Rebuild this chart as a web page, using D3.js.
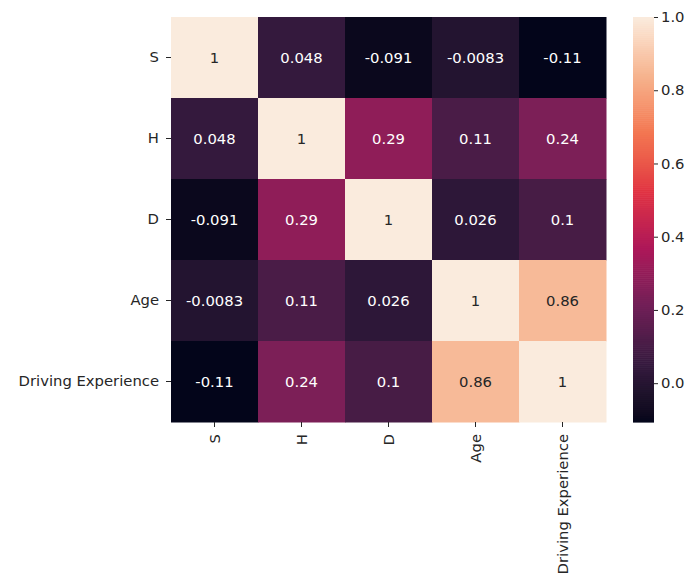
<!DOCTYPE html>
<html><head><meta charset="utf-8">
<script src="https://cdn.jsdelivr.net/npm/d3@7"></script>
<style>body{margin:0;background:#fff}svg{display:block}text{font-family:"DejaVu Sans",sans-serif;}</style>
</head><body><svg id="c" width="691" height="578"></svg>
<script>
const labels = ["S","H","D","Age","Driving Experience"];
const rowS   = [1, 0.048, -0.091, -0.0083, -0.106];
const rowH   = [0.048, 1, 0.29, 0.11, 0.24];
const rowD   = [-0.091, 0.29, 1, 0.026, 0.1];
const rowAge = [-0.0083, 0.11, 0.026, 1, 0.86];
const rowDE  = [-0.106, 0.24, 0.1, 0.86, 1];
const matrix = [rowS,rowH,rowD,rowAge,rowDE];
const cbarTicks = [0.0,0.2,0.4,0.6,0.8,1.0];
const rocketStops = ["#03051A","#35193e","#701f57","#ad1759","#e13342","#f37651","#f6b48f","#FAEBDD"];

const FS = 14.8;
const svg = d3.select("#c");
const L=171,R=606,T=17,B=422;
const vmin = d3.min(matrix.flat()), vmax = 1;
const x = d3.scaleBand().domain(labels).range([L,R]);
const y = d3.scaleBand().domain(labels).range([T,B]);
const stopPos = [0,1/7,2/7,3/7,4/7,5/7,6/7,1];
const cmap = d3.scaleLinear().domain(stopPos.map(p=>vmin+p*(vmax-vmin))).range(rocketStops).interpolate(d3.interpolateLab).clamp(true);

const fmt = v => d3.format(".2~g")(v).replace("\u2212","-");
const cells=[];
matrix.forEach((row,i)=>row.forEach((v,j)=>cells.push({r:labels[i],c:labels[j],v})));
function lum(col){const c=d3.rgb(col);const f=u=>{u/=255;return u<=0.03928?u/12.92:Math.pow((u+0.055)/1.055,2.4)};return 0.2126*f(c.r)+0.7152*f(c.g)+0.0722*f(c.b);}
const g=svg.append("g");
g.selectAll("rect").data(cells).join("rect")
 .attr("x",d=>x(d.c)).attr("y",d=>y(d.r)).attr("width",x.bandwidth()+0.5).attr("height",y.bandwidth()+0.5)
 .attr("fill",d=>cmap(d.v));
g.selectAll("text").data(cells).join("text")
 .attr("x",d=>x(d.c)+x.bandwidth()/2).attr("y",d=>y(d.r)+y.bandwidth()/2).attr("dy","0.35em")
 .attr("text-anchor","middle").attr("font-size",FS)
 .attr("fill",d=>lum(cmap(d.v))>0.408?"#262626":"#fff").text(d=>fmt(d.v));

// y axis
const ya=svg.append("g").attr("transform",`translate(${L},0)`).call(d3.axisLeft(y).tickSize(5).tickPadding(7));
ya.select(".domain").remove();
ya.selectAll("text").attr("font-size",FS).attr("fill","#262626").style("font-family","DejaVu Sans");
ya.selectAll("line").attr("stroke","#262626");
// x axis
const xa=svg.append("g").attr("transform",`translate(0,${B})`).call(d3.axisBottom(x).tickSize(5).tickPadding(7));
xa.select(".domain").remove();
xa.selectAll("line").attr("stroke","#262626");
xa.selectAll("text").attr("font-size",FS).attr("fill","#262626").style("font-family","DejaVu Sans")
 .attr("transform","rotate(-90)").attr("text-anchor","end").attr("x",-12).attr("y",0).attr("dy","0.35em");

// colorbar
const cx0=633,cx1=654;
const cy=d3.scaleLinear().domain([vmin,vmax]).range([B,T]);
const N=200;
svg.append("g").selectAll("rect").data(d3.range(N)).join("rect")
 .attr("x",cx0).attr("width",cx1-cx0)
 .attr("y",i=>cy(vmin+(i+1)*(vmax-vmin)/N)).attr("height",i=>cy(vmin+i*(vmax-vmin)/N)-cy(vmin+(i+1)*(vmax-vmin)/N)+0.6)
 .attr("fill",i=>cmap(vmin+(i+0.5)*(vmax-vmin)/N));
const ca=svg.append("g").attr("transform",`translate(${cx1},0)`).call(d3.axisRight(cy).tickValues(cbarTicks).tickFormat(d3.format(".1f")).tickSize(4).tickPadding(3));
ca.select(".domain").remove();
ca.selectAll("line").attr("stroke","#262626");
ca.selectAll("text").attr("font-size",FS).attr("fill","#262626").style("font-family","DejaVu Sans");
</script></body></html>
